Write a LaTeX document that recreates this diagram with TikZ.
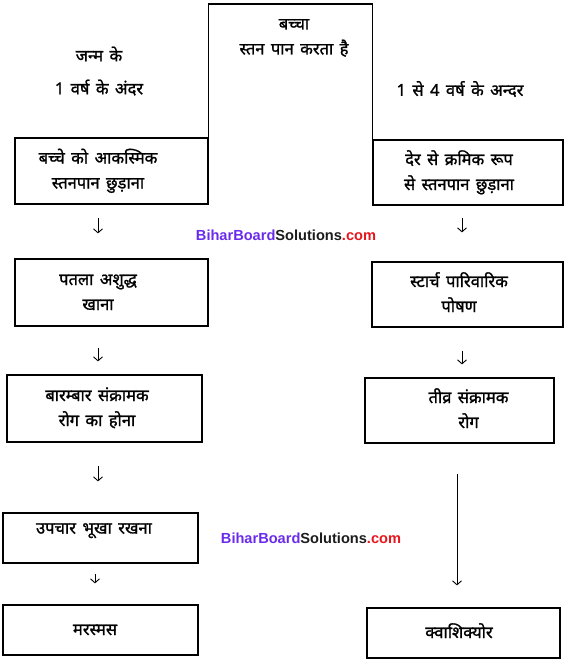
\documentclass[tikz,border=0pt]{standalone}
\usepackage{fontspec}
\usepackage{xcolor}
\usepackage{tikz}
\newfontfamily\hindi[Script=Devanagari, WordSpace=1.5, FakeBold=1.2]{Noto Sans}
\newfontfamily\wmfont{Liberation Sans}
\usetikzlibrary{arrows.meta, positioning}
\definecolor{wmBlue}{RGB}{106, 44, 236}
\definecolor{wmDark}{RGB}{28, 28, 28}
\definecolor{wmRed}{RGB}{230, 22, 30}
\newcommand{\sitemark}{\textcolor{wmBlue}{BiharBoard}\textcolor{wmDark}{Solutions}\textcolor{wmRed}{.com}}
% lines of a box, with extra room to the left (#1) and to the right (#2)
\newcommand{\boxlines}[3]{\begin{tabular}{@{\hspace{#1}}c@{\hspace{#2}}}#3\end{tabular}}

\begin{document}
\begin{tikzpicture}[
    x=1pt, y=-1pt,
    font=\hindi\fontsize{16.5}{25}\selectfont,
    stagebox/.style={
        rectangle,
        draw=black,
        line width=1.2pt,
        inner sep=0pt
    },
    heading/.style={
        align=center,
        inner sep=0pt
    },
    flow/.style={
        -{Straight Barb[length=4pt, width=9pt]},
        line width=0.9pt
    },
    watermark/.style={
        font=\wmfont\bfseries\fontsize{14.6}{16}\selectfont,
        inner sep=0pt
    }
]
    \useasboundingbox (0,0) rectangle (570,661);

    % top part
    \coordinate (top) at (0,4);
    \node[heading] (nurse) at (294,38) {बच्चा\\स्तन पान करता है};
    \node[heading] (infant) at (99,71) {जन्म के\\[8pt]1 वर्ष के अंदर};
    \node[heading] (toddler) at (460,89) {1 से 4 वर्ष के अन्दर};

    % left column
    \node[stagebox, minimum width=193pt, minimum height=66pt] (abrupt) at (111.5,171)
        {\boxlines{0pt}{27pt}{बच्चे को आकस्मिक\\स्तनपान छुड़ाना}};
    \node[stagebox, minimum width=193pt, minimum height=67pt] (thinfood) at (111.5,292.5)
        {\boxlines{0pt}{27pt}{पतला अशुद्ध\\खाना}};
    \node[stagebox, minimum width=195pt, minimum height=67pt] (infection) at (104.5,408.5)
        {\boxlines{0pt}{15pt}{बारम्बार संक्रामक\\रोग का होना}};
    \node[stagebox, minimum width=195pt, text height=20pt, text depth=30pt] (hunger) at (100.5,538)
        {\boxlines{0pt}{13pt}{उपचार भूखा रखना}};
    \node[stagebox, minimum width=195pt, minimum height=50pt] (marasmus) at (100.5,630)
        {\boxlines{0pt}{11pt}{मरस्मस}};

    % right column
    \node[stagebox, minimum width=190pt, minimum height=65pt] (gradual) at (468,172.5)
        {\boxlines{0pt}{18pt}{देर से क्रमिक रूप\\से स्तनपान छुड़ाना}};
    \node[stagebox, minimum width=191pt, minimum height=65pt] (starch) at (467.5,294.5)
        {\boxlines{0pt}{17pt}{स्टार्च पारिवारिक\\पोषण}};
    \node[stagebox, minimum width=189pt, minimum height=65pt] (acute) at (459.5,410.5)
        {\boxlines{18pt}{0pt}{तीव्र संक्रामक\\रोग}};
    \node[stagebox, minimum width=193pt, minimum height=50pt] (kwashi) at (463.5,633)
        {\boxlines{0pt}{9pt}{क्वाशिक्योर}};

    % centre frame, open at the bottom
    \draw[line width=1.2pt] (abrupt.south east) -- (abrupt.south east |- top)
        -- (gradual.south west |- top) -- (gradual.south west);

    \node[watermark] (wmtop) at (286,235) {\sitemark};
    \node[watermark] (wmbottom) at (311,538) {\sitemark};

    % arrows
    \coordinate (lcol) at (98,0);
    \coordinate (rcol) at (462,0);
    \draw[flow, shorten <=13pt, shorten >=25pt] (abrupt.south -| lcol) -- (thinfood.north -| lcol);
    \draw[flow, shorten <=21pt, shorten >=13pt] (thinfood.south -| lcol) -- (infection.north -| lcol);
    \draw[flow, shorten <=23pt, shorten >=31pt] (infection.south -| lcol) -- (hunger.north -| lcol);
    \draw[flow, shorten <=10pt, shorten >=21pt] (hunger.south -| 95,0) -- (marasmus.north -| 95,0);
    \draw[flow, shorten <=12pt, shorten >=29pt] (gradual.south -| rcol) -- (starch.north -| rcol);
    \draw[flow, shorten <=23pt, shorten >=13pt] (starch.south -| rcol) -- (acute.north -| rcol);
    \draw[flow, shorten <=30pt, shorten >=22pt] (acute.south -| 457,0) -- (kwashi.north -| 457,0);

\end{tikzpicture}
\end{document}
